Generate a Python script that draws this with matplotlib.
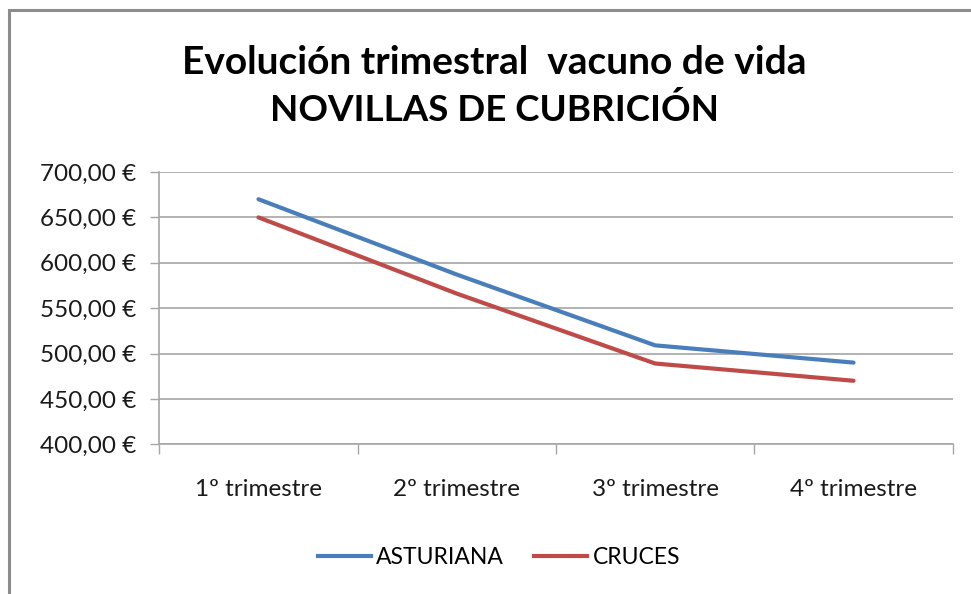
import matplotlib
matplotlib.use("Agg")
import matplotlib.pyplot as plt
from matplotlib.lines import Line2D
from matplotlib.patches import Rectangle
from matplotlib.ticker import FixedLocator, NullFormatter, FuncFormatter

plt.rcParams['font.family'] = ['Lato', 'DejaVu Sans']

categories = ["1º trimestre", "2º trimestre", "3º trimestre", "4º trimestre"]
asturiana = [670, 587, 509, 490]
cruces = [650, 566, 489, 470]
series_names = ["ASTURIANA", "CRUCES"]
title_lines = ["Evolución trimestral  vacuno de vida", "NOVILLAS DE CUBRICIÓN"]
y_ticks = [400, 450, 500, 550, 600, 650, 700]

blue = "#4A7EBB"
red = "#BE4B48"
grid_c = "#A6A6A6"

fig = plt.figure(figsize=(9.71, 5.94), dpi=100)
fig.patch.set_facecolor("white")

# outer chart border
fig.add_artist(Rectangle((9/971, -0.05), 1.0, 1.05 - 10/594, transform=fig.transFigure,
                         fill=False, edgecolor="#8C8C8C", linewidth=2.2))

ax = fig.add_axes([159.3/971, 1 - 444.3/594, 793.4/971, 272.3/594])
x = list(range(len(categories)))
ax.plot(x, asturiana, color=blue, linewidth=3.0, solid_capstyle="round", zorder=3)
ax.plot(x, cruces, color=red, linewidth=3.0, solid_capstyle="round", zorder=3)

ax.set_xlim(-0.5, len(categories) - 0.5)
ax.set_ylim(400, 700)
ax.yaxis.set_major_locator(FixedLocator(y_ticks))
ax.yaxis.set_major_formatter(FuncFormatter(lambda v, p: f"{v:,.2f}".replace(",", "X").replace(".", ",").replace("X", ".") + " €"))
ax.xaxis.set_major_locator(FixedLocator([i - 0.5 for i in range(len(categories) + 1)]))
ax.xaxis.set_major_formatter(NullFormatter())
ax.xaxis.set_minor_locator(FixedLocator(x))
ax.set_xticklabels(categories, minor=True)
ax.tick_params(axis="x", which="minor", length=0, pad=25, labelsize=17.5, colors="#1a1a1a")
ax.tick_params(axis="x", which="major", length=7, width=1, color=grid_c, direction="out")
ax.tick_params(axis="y", length=6.5, width=1, color=grid_c, direction="out", labelsize=17.5, labelcolor="#1a1a1a", pad=10)

ax.grid(axis="y", color=grid_c, linewidth=1.2, zorder=0)
for s in ["top", "right"]:
    ax.spines[s].set_visible(False)
for s in ["left", "bottom"]:
    ax.spines[s].set_color(grid_c)
    ax.spines[s].set_linewidth(1.2)

fig.text(494/971, 1 - 62/594, title_lines[0], ha="center", va="center", fontsize=28, fontweight="bold")
fig.text(494/971, 1 - 110/594, title_lines[1], ha="center", va="center", fontsize=26.5, fontweight="bold")

handles = [Line2D([], [], color=blue, linewidth=3.0), Line2D([], [], color=red, linewidth=3.0)]
fig.legend(handles, series_names, loc="center", bbox_to_anchor=(499/971, 1 - 558/594), ncol=2,
           frameon=False, fontsize=16.5, handlelength=2.3, handletextpad=0.25, columnspacing=1.3)

fig.savefig("out.png", dpi=100)
